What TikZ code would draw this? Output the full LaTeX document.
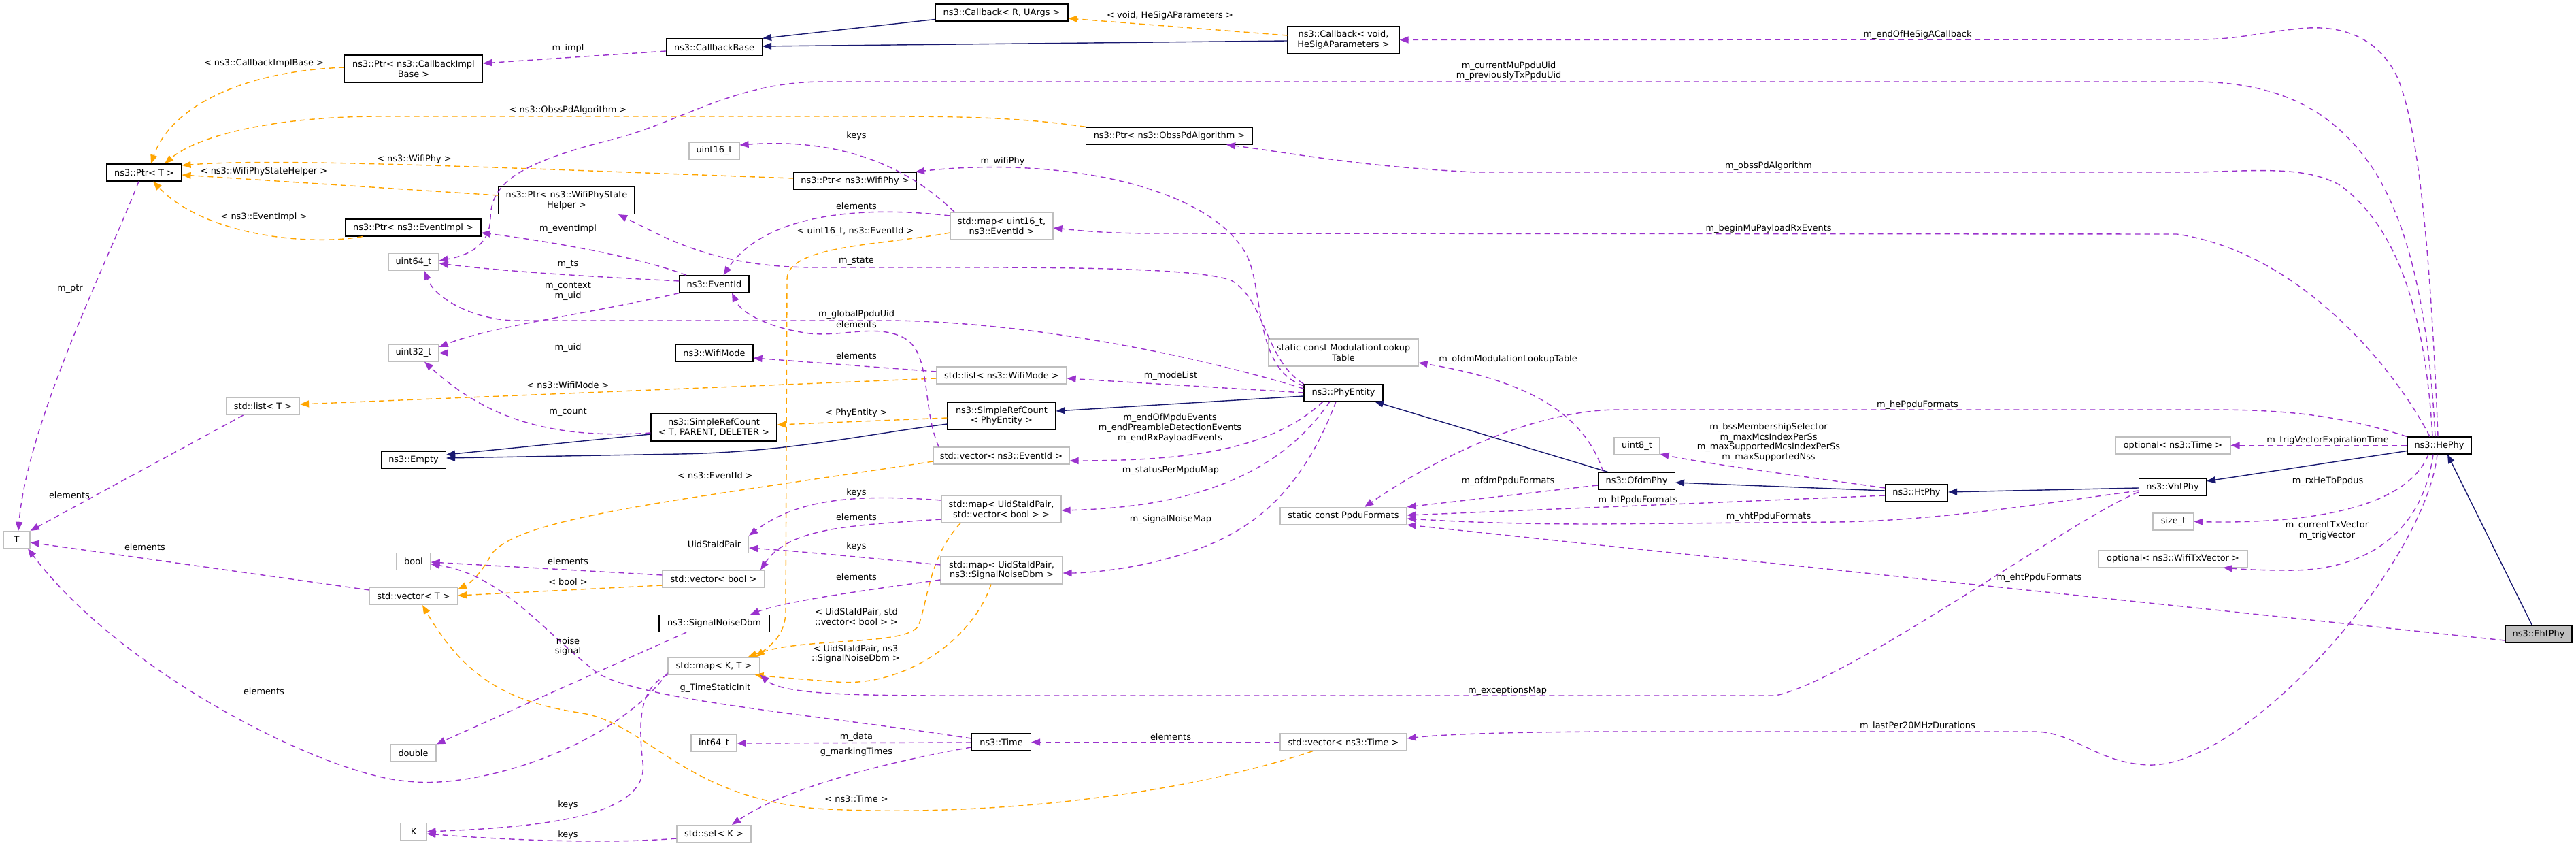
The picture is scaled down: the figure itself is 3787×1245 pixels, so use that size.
\documentclass[tikz,border=0pt]{standalone}
\usepackage{fontspec}
\setmainfont{DejaVu Sans}
\usetikzlibrary{arrows.meta}
\definecolor{purp}{HTML}{9A32CD}
\definecolor{orng}{HTML}{FFA500}
\definecolor{navyb}{HTML}{191970}
\definecolor{grayb}{HTML}{BFBFBF}
\newcommand\dfs{\fontsize{12.9}{14.7}\selectfont}
\begin{document}
\begin{tikzpicture}[x=1pt,y=-1pt,
 box/.style={draw=black,line width=1.2pt,fill=white,inner sep=0pt,minimum height=25pt,align=center,font=\dfs},
 ebox/.style={box,draw=grayb},
 cbox/.style={box,fill=grayb},
 two/.style={minimum height=40pt},
 lbl/.style={font=\dfs,inner sep=0pt,align=center},
 usage/.style={draw=purp,line width=1.4pt,dash pattern=on 8pt off 6pt,-{Triangle[length=13pt,width=10pt]}},
 tmpl/.style={usage,draw=orng},
 inh/.style={draw=navyb,line width=1.4pt,-{Triangle[length=13pt,width=10pt]}}
]
\fill[white] (0,0) rectangle (3787,1245);
\useasboundingbox (0,0) rectangle (3787,1245);

% ---------------- nodes
\node[box,minimum width=110pt] (ptrT) at (212,253.5) {ns3::Ptr< T >};
\node[box,two,minimum width=203pt] (ptrCIB) at (608,101) {ns3::Ptr< ns3::CallbackImpl\\Base >};
\node[box,two,minimum width=200pt] (ptrWPSH) at (833,294.5) {ns3::Ptr< ns3::WifiPhyState\\Helper >};
\node[box,minimum width=199pt] (ptrEI) at (607.5,334.5) {ns3::Ptr< ns3::EventImpl >};
\node[ebox,minimum width=74pt] (u64) at (608,385) {uint64\_t};
\node[ebox,minimum width=74pt] (u32) at (608,518.5) {uint32\_t};
\node[ebox,minimum width=108pt] (listT) at (386.5,597) {std::list< T >};
\node[box,minimum width=95pt] (empty) at (608,676) {ns3::Empty};
\node[ebox,minimum width=39pt] (tT) at (24.5,793) {T};
\node[ebox,minimum width=50pt] (bool) at (608,825) {bool};
\node[ebox,minimum width=129pt] (vecT) at (608,876) {std::vector< T >};
\node[ebox,minimum width=67pt] (dbl) at (607.5,1106.5) {double};
\node[ebox,minimum width=38pt] (kK) at (608,1222) {K};
\node[box,minimum width=195pt] (cbRU) at (1472.5,18.5) {ns3::Callback< R, UArgs >};
\node[box,minimum width=141pt] (cbBase) at (1050,69.5) {ns3::CallbackBase};
\node[box,minimum width=245pt] (ptrObss) at (1719,199.5) {ns3::Ptr< ns3::ObssPdAlgorithm >};
\node[ebox,minimum width=74pt] (u16) at (1050,221.5) {uint16\_t};
\node[box,minimum width=181pt] (ptrWP) at (1257,265.5) {ns3::Ptr< ns3::WifiPhy >};
\node[ebox,two,minimum width=151pt] (mapU16) at (1472.5,332) {std::map< uint16\_t,\\ns3::EventId >};
\node[box,minimum width=102pt] (eventId) at (1050,417.5) {ns3::EventId};
\node[box,minimum width=114pt] (wifiMode) at (1050,518.5) {ns3::WifiMode};
\node[ebox,minimum width=191pt] (listWM) at (1472.5,551.5) {std::list< ns3::WifiMode >};
\node[box,two,minimum width=185pt] (srcTPD) at (1049.5,628) {ns3::SimpleRefCount\\< T, PARENT, DELETER >};
\node[box,two,minimum width=159pt] (srcPE) at (1472.5,611) {ns3::SimpleRefCount\\< PhyEntity >};
\node[ebox,minimum width=200pt] (vecEI) at (1472,669.5) {std::vector< ns3::EventId >};
\node[ebox,two,minimum width=176pt] (mapVB) at (1472,748) {std::map< UidStaIdPair,\\std::vector< bool > >};
\node[ebox,minimum width=101pt] (uidPair) at (1050,800) {UidStaIdPair};
\node[ebox,two,minimum width=179pt] (mapSN) at (1472.5,838) {std::map< UidStaIdPair,\\ns3::SignalNoiseDbm >};
\node[ebox,minimum width=150pt] (vecBool) at (1049,850.5) {std::vector< bool >};
\node[box,minimum width=162pt] (snDbm) at (1050,916) {ns3::SignalNoiseDbm};
\node[ebox,minimum width=135pt] (mapKT) at (1049.5,978.5) {std::map< K, T >};
\node[ebox,minimum width=67pt] (i64) at (1049.5,1092) {int64\_t};
\node[box,minimum width=87pt] (time) at (1472,1090.5) {ns3::Time};
\node[ebox,minimum width=109pt] (setK) at (1049.5,1225) {std::set< K >};
\node[box,two,minimum width=164pt] (cbVoid) at (1975,58.5) {ns3::Callback< void,\\HeSigAParameters >};
\node[ebox,two,minimum width=220pt] (modLT) at (1975,518) {static const ModulationLookup\\Table};
\node[box,minimum width=116pt] (phyEnt) at (1975,577) {ns3::PhyEntity};
\node[ebox,minimum width=67pt] (u8) at (2406.5,655.5) {uint8\_t};
\node[box,minimum width=113pt] (ofdm) at (2406,706.5) {ns3::OfdmPhy};
\node[ebox,minimum width=186pt] (ppdu) at (1975,758) {static const PpduFormats};
\node[ebox,minimum width=186pt] (vecTime) at (1975,1090.5) {std::vector< ns3::Time >};
\node[box,minimum width=94pt] (hePhy) at (3586,654.5) {ns3::HePhy};
\node[ebox,minimum width=169pt] (optTime) at (3194.5,654.5) {optional< ns3::Time >};
\node[box,minimum width=99pt] (vht) at (3194,716) {ns3::VhtPhy};
\node[box,minimum width=92pt] (ht) at (2817.5,724) {ns3::HtPhy};
\node[ebox,minimum width=60pt] (sizeT) at (3195,766.5) {size\_t};
\node[ebox,minimum width=219pt] (optTx) at (3194.5,821) {optional< ns3::WifiTxVector >};
\node[cbox,minimum width=98pt] (eht) at (3732,932) {ns3::EhtPhy};

% ---------------- inheritance
\draw[inh] ([yshift=-10pt]cbRU.west) -- (cbBase.north east);
\draw[inh] ([yshift=-1.5pt]cbVoid.west) -- ([yshift=1.5pt]cbBase.east);
\draw[inh] ([yshift=-5pt]phyEnt.west) -- ([yshift=7pt]srcPE.east);
\draw[inh] ([yshift=-12pt]srcPE.west) .. controls (1260,640) and (1160,664) .. (1000,667) -- ([yshift=3pt]empty.east);
\draw[inh] ([yshift=-10pt]srcTPD.west) -- ([yshift=8pt]empty.east);
\draw[inh] ([xshift=-42.5pt]ofdm.north) -- ([xshift=46pt]phyEnt.south);
\draw[inh] ([yshift=3pt]ht.west) -- ([yshift=-2.5pt]ofdm.east);
\draw[inh] ([yshift=-1pt]vht.west) -- ([yshift=1pt]ht.east);
\draw[inh] ([yshift=-8pt]hePhy.west) -- ([yshift=9pt]vht.east);
\draw[inh] ([xshift=-9.5pt]eht.north) -- ([xshift=12pt]hePhy.south);

% ---------------- template instances
\draw[tmpl] ([yshift=6.5pt]cbVoid.west) -- ([yshift=-8.5pt]cbRU.east);
\draw[tmpl] ([yshift=2pt]ptrCIB.west) .. controls (350,105) and (250,160) .. ([xshift=10pt]ptrT.north);
\draw[tmpl] (ptrObss.north west) .. controls (1500,172) and (1400,171) .. (1300,171) -- (560,171) .. controls (400,171) and (290,200) .. ([xshift=30pt]ptrT.north);
\draw[tmpl] ([yshift=3.5pt]ptrWP.west) .. controls (700,245) and (400,232) .. ([yshift=10.5pt]ptrT.east);
\draw[tmpl] ([yshift=7.5pt]ptrWPSH.west) -- ([yshift=-3.5pt]ptrT.east);
\draw[tmpl] ([xshift=-74.5pt]ptrEI.south) .. controls (450,362) and (300,345) .. ([xshift=13pt]ptrT.south);
\draw[tmpl] ([yshift=-3pt]srcPE.west) -- ([yshift=4pt]srcTPD.east);
\draw[tmpl] ([yshift=-4.5pt]listWM.west) -- ([yshift=3pt]listT.east);
\draw[tmpl] ([yshift=-9.5pt]vecBool.west) -- ([yshift=1pt]vecT.east);
\draw[tmpl] ([yshift=-8.5pt]vecEI.west) .. controls (1000,735) and (760,760) .. (722,815) .. controls (712,835) and (695,855) .. ([yshift=10pt]vecT.east);
\draw[tmpl] ([xshift=-45pt]vecTime.south) .. controls (1700,1180) and (1400,1200) .. (1200,1188) .. controls (1000,1170) and (950,1060) .. (850,1047) .. controls (740,1030) and (680,990) .. ([xshift=13pt]vecT.south);
\draw[tmpl] ([yshift=-10pt]mapU16.west) .. controls (1300,360) and (1158,360) .. (1157,410) -- (1155,900) .. controls (1154,935) and (1130,950) .. ([xshift=62pt]mapKT.north);
\draw[tmpl] ([xshift=-60pt]mapVB.south) .. controls (1365,820) and (1365,880) .. (1350,920) .. controls (1330,950) and (1180,935) .. ([xshift=50pt]mapKT.north);
\draw[tmpl] ([xshift=-15.5pt]mapSN.south) .. controls (1430,940) and (1330,1010) .. (1230,1002) .. controls (1180,998) and (1140,995) .. ([xshift=-8pt]mapKT.south east);

% ---------------- usage
\draw[usage] ([yshift=-5.5pt]cbBase.west) -- ([yshift=8pt]ptrCIB.east);
\draw[usage] ([xshift=-8pt]ptrT.south) .. controls (160,380) and (40,620) .. ([xshift=2.5pt]tT.north);
\draw[usage] ([xshift=-29pt]listT.south) -- (tT.north east);
\draw[usage] ([yshift=9pt]vecT.west) -- ([yshift=-4pt]tT.east);
\draw[usage] ([yshift=3pt]mapKT.south west) .. controls (900,1100) and (700,1160) .. (600,1148) .. controls (480,1140) and (180,990) .. ([xshift=16.5pt]tT.south);
\draw[usage] (mapKT.south west) .. controls (940,1010) and (938,1060) .. (945,1120) .. controls (955,1200) and (800,1215) .. (kK.east);
\draw[usage] ([yshift=-7pt]setK.west) .. controls (900,1240) and (750,1235) .. ([yshift=-3pt]kK.east);
\draw[usage] ([yshift=-7.5pt]time.west) .. controls (1300,1120) and (1150,1160) .. ([xshift=26.5pt]setK.north);
\draw[usage] ([yshift=-0.5pt]time.west) -- (i64.east);
\draw[usage] ([yshift=5.5pt]time.west) .. controls (1200,1050) and (950,1030) .. (880,990) .. controls (800,930) and (740,845) .. ([yshift=-4pt]bool.east);
\draw[usage] (vecTime.west) -- (time.east);
\draw[usage] ([yshift=-7pt]vht.west) .. controls (3050,760) and (2720,1000) .. (2610,1022) -- (1400,1022) .. controls (1250,1022) and (1150,1020) .. (mapKT.south east);
\draw[usage] ([xshift=-3pt]hePhy.south) .. controls (3565,830) and (3300,1130) .. (3157,1124) .. controls (3080,1120) and (3050,1075) .. (2990,1075) -- (2400,1075) .. controls (2200,1075) and (2110,1080) .. ([yshift=5.5pt]vecTime.east);
\draw[usage] ([xshift=-9pt]hePhy.south) .. controls (3560,790) and (3470,840) .. (3360,838) .. controls (3320,838) and (3290,836) .. ([xshift=74pt]optTx.south);
\draw[usage] ([xshift=-16pt]hePhy.south) .. controls (3540,745) and (3400,770) .. (sizeT.east);
\draw[usage] (hePhy.west) -- (optTime.east);
\draw[usage] ([yshift=-8pt]srcTPD.west) .. controls (820,645) and (720,620) .. ([xshift=16pt]u32.south);
\draw[usage] ([yshift=5.5pt]listWM.west) -- ([yshift=-7.5pt]wifiMode.east);
\draw[usage] (wifiMode.west) -- (u32.east);
\draw[usage] (eventId.south west) .. controls (870,460) and (720,480) .. ([yshift=8.5pt]u32.east);
\draw[usage] ([yshift=6pt]phyEnt.west) .. controls (1750,520) and (1500,471) .. (1300,471) -- (760,471) .. controls (700,471) and (640,440) .. ([xshift=16pt]u64.south);
\draw[usage] ([xshift=-41pt]eventId.north) .. controls (960,385) and (850,360) .. ([yshift=-7.5pt]ptrEI.east);
\draw[usage] ([yshift=4.5pt]eventId.west) .. controls (900,408) and (750,400) .. ([yshift=-2pt]u64.east);
\draw[usage] ([xshift=-6pt]hePhy.north) .. controls (3570,450) and (3540,330) .. (3490,250) .. controls (3430,160) and (3350,122) .. (3230,120) -- (1210,120) .. controls (1080,120) and (1000,180) .. (900,205) .. controls (760,240) and (722,270) .. (721,320) .. controls (720,360) and (690,375) .. ([yshift=2pt]u64.east);
\draw[usage] ([xshift=-2pt]hePhy.north) .. controls (3575,420) and (3560,200) .. (3525,115) .. controls (3490,40) and (3420,38) .. (3380,42) .. controls (3320,48) and (3290,58) .. (3230,58) -- (cbVoid.east);
\draw[usage] ([xshift=-10pt]hePhy.north) .. controls (3565,450) and (3520,330) .. (3440,272) .. controls (3390,245) and (3330,250) .. (3230,253) -- (2170,253) .. controls (2000,245) and (1900,225) .. ([xshift=84pt]ptrObss.south);
\draw[usage] ([xshift=-14pt]hePhy.north) .. controls (3520,540) and (3380,370) .. (3200,344) -- (1700,343) .. controls (1620,343) and (1580,338) .. ([yshift=-3pt]mapU16.east);
\draw[usage] (hePhy.north west) .. controls (3440,610) and (3360,602) .. (3250,602) -- (2380,602) .. controls (2250,602) and (2100,680) .. ([xshift=31pt]ppdu.north);
\draw[usage] ([xshift=-49pt]ofdm.north) .. controls (2330,610) and (2250,560) .. ([yshift=-15pt]modLT.east);
\draw[usage] ([yshift=-6.5pt]ofdm.west) -- (ppdu.north east);
\draw[usage] ([yshift=-4pt]ht.west) -- ([yshift=1pt]ppdu.east);
\draw[usage] ([yshift=7pt]ht.west) .. controls (2650,700) and (2500,680) .. ([yshift=-11.5pt]u8.east);
\draw[usage] ([yshift=-5pt]vht.west) .. controls (3000,740) and (2850,765) .. (2700,767) -- (2345,770) .. controls (2200,770) and (2120,765) .. ([yshift=-4pt]ppdu.east);
\draw[usage] ([yshift=-9pt]eht.west) -- (ppdu.south east);
\draw[usage] ([yshift=10pt]phyEnt.west) .. controls (1840,540) and (1860,420) .. (1830,370) .. controls (1770,270) and (1550,230) .. ([xshift=89pt]ptrWP.north);
\draw[usage] (phyEnt.north west) .. controls (1860,530) and (1860,440) .. (1810,412) .. controls (1750,390) and (1500,393) .. (1200,393) .. controls (1050,393) and (980,350) .. ([xshift=76pt]ptrWPSH.south);
\draw[usage] (phyEnt.west) -- ([yshift=-4.5pt]listWM.east);
\draw[usage] ([xshift=-30pt]phyEnt.south) .. controls (1870,660) and (1750,677) .. ([yshift=-7.5pt]vecEI.east);
\draw[usage] ([xshift=-20pt]phyEnt.south) .. controls (1880,700) and (1750,745) .. ([yshift=-2pt]mapVB.east);
\draw[usage] ([xshift=-11pt]phyEnt.south) .. controls (1900,760) and (1800,800) .. (1700,825) .. controls (1650,837) and (1600,842) .. ([yshift=-4pt]mapSN.east);
\draw[usage] ([yshift=15pt]mapU16.west) .. controls (1250,300) and (1120,320) .. ([xshift=13.5pt]eventId.north);
\draw[usage] ([xshift=-69.5pt]mapU16.north) .. controls (1360,270) and (1270,200) .. ([yshift=8.5pt]u16.east);
\draw[usage] ([xshift=-92pt]vecEI.north) .. controls (1355,600) and (1370,520) .. (1330,497) .. controls (1290,475) and (1240,495) .. (1190,490) .. controls (1130,482) and (1090,460) .. ([xshift=26pt]eventId.south);
\draw[usage] ([yshift=13pt]mapVB.west) .. controls (1250,725) and (1170,735) .. (uidPair.north east);
\draw[usage] ([yshift=-15pt]mapVB.west) .. controls (1250,772) and (1160,775) .. ([xshift=69pt]vecBool.north);
\draw[usage] ([yshift=8pt]mapSN.west) .. controls (1300,822) and (1200,812) .. ([yshift=-5pt]uidPair.east);
\draw[usage] ([yshift=-14pt]mapSN.west) .. controls (1250,870) and (1150,885) .. ([xshift=53pt]snDbm.north);
\draw[usage] ([yshift=5.5pt]vecBool.west) -- ([yshift=-1pt]bool.east);
\draw[usage] ([xshift=-41pt]snDbm.south) -- (dbl.north east);

% ---------------- labels
\node[lbl] (l01) at (1720,23) {< void, HeSigAParameters >};
\node[lbl] (l02) at (835,71) {m\_impl};
\node[lbl] (l03) at (388,93) {< ns3::CallbackImplBase >};
\node[lbl] (l04) at (835,162) {< ns3::ObssPdAlgorithm >};
\node[lbl] (l05) at (609,234) {< ns3::WifiPhy >};
\node[lbl] (l06) at (388,252) {< ns3::WifiPhyStateHelper >};
\node[lbl] (l07) at (388,319) {< ns3::EventImpl >};
\node[lbl] (l08) at (103,424) {m\_ptr};
\node[lbl] (l09) at (102,728) {elements};
\node[lbl] (l10) at (213,804) {elements};
\node[lbl] (l11) at (388,1016) {elements};
\node[lbl] (l12) at (835,1183) {keys};
\node[lbl] (l13) at (835,1227) {keys};
\node[lbl] (l14) at (1259,1105) {g\_markingTimes};
\node[lbl] (l15) at (1259,1083) {m\_data};
\node[lbl] (l16) at (1051.5,1011) {g\_TimeStaticInit};
\node[lbl] (l17) at (1721,1083) {elements};
\node[lbl] (l18) at (1259,1174) {< ns3::Time >};
\node[lbl] (l19) at (1257.5,340) {< uint16\_t, ns3::EventId >};
\node[lbl] (l20) at (1259,906) {< UidStaIdPair, std\\::vector< bool > >};
\node[lbl] (l21) at (1258,961) {< UidStaIdPair, ns3\\::SignalNoiseDbm >};
\node[lbl] (l22) at (2216,1015) {m\_exceptionsMap};
\node[lbl] (l23) at (2819,1067) {m\_lastPer20MHzDurations};
\node[lbl] (l24) at (3421,780) {m\_currentTxVector\\m\_trigVector};
\node[lbl] (l25) at (3422,707) {m\_rxHeTbPpdus};
\node[lbl] (l26) at (3422,647) {m\_trigVectorExpirationTime};
\node[lbl] (l27) at (1259,607) {< PhyEntity >};
\node[lbl] (l28) at (835,605) {m\_count};
\node[lbl] (l29) at (1259,523) {elements};
\node[lbl] (l30) at (835,566) {< ns3::WifiMode >};
\node[lbl] (l31) at (835,511) {m\_uid};
\node[lbl] (l32) at (835,428) {m\_context\\m\_uid};
\node[lbl] (l33) at (1259,462) {m\_globalPpduUid};
\node[lbl] (l34) at (1259,477) {elements};
\node[lbl] (l35) at (835,336) {m\_eventImpl};
\node[lbl] (l36) at (835,388) {m\_ts};
\node[lbl] (l37) at (2218,104) {m\_currentMuPpduUid\\m\_previouslyTxPpduUid};
\node[lbl] (l38) at (2819,51) {m\_endOfHeSigACallback};
\node[lbl] (l39) at (2600,244) {m\_obssPdAlgorithm};
\node[lbl] (l40) at (2600,336) {m\_beginMuPayloadRxEvents};
\node[lbl] (l41) at (2819,595) {m\_hePpduFormats};
\node[lbl] (l42) at (2217,528) {m\_ofdmModulationLookupTable};
\node[lbl] (l43) at (2217,707) {m\_ofdmPpduFormats};
\node[lbl] (l44) at (2408,735) {m\_htPpduFormats};
\node[lbl] (l45) at (2600,650) {m\_bssMembershipSelector\\m\_maxMcsIndexPerSs\\m\_maxSupportedMcsIndexPerSs\\m\_maxSupportedNss};
\node[lbl] (l46) at (2600,759) {m\_vhtPpduFormats};
\node[lbl] (l47) at (2998,849) {m\_ehtPpduFormats};
\node[lbl] (l48) at (1474,237) {m\_wifiPhy};
\node[lbl] (l49) at (1259,383) {m\_state};
\node[lbl] (l50) at (1721,552) {m\_modeList};
\node[lbl] (l51) at (1720,629) {m\_endOfMpduEvents\\m\_endPreambleDetectionEvents\\m\_endRxPayloadEvents};
\node[lbl] (l52) at (1721,691) {m\_statusPerMpduMap};
\node[lbl] (l53) at (1721,763) {m\_signalNoiseMap};
\node[lbl] (l54) at (1259,303) {elements};
\node[lbl] (l55) at (1259,200) {keys};
\node[lbl] (l56) at (1259,724) {keys};
\node[lbl] (l57) at (1259,760) {elements};
\node[lbl] (l58) at (1259,803) {keys};
\node[lbl] (l59) at (1259,848) {elements};
\node[lbl] (l60) at (835,825) {elements};
\node[lbl] (l61) at (835,855) {< bool >};
\node[lbl] (l62) at (1051.5,699) {< ns3::EventId >};
\node[lbl] (l63) at (835,950) {noise\\signal};
\end{tikzpicture}
\end{document}
